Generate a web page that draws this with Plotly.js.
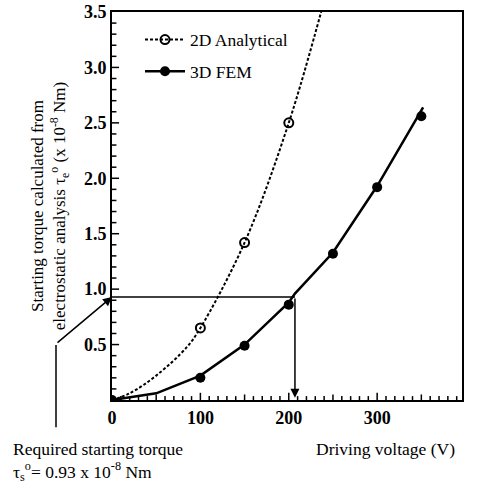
<!DOCTYPE html>
<html><head><meta charset="utf-8">
<script src="https://cdn.plot.ly/plotly-3.0.1.min.js"></script>
<style>body{margin:0;background:#fff}</style>
</head><body>
<div id="chart" style="width:481px;height:484px"></div>
<script>
// 2D Analytical: measured points and drawn curve
const ana2dX = [100, 150, 200];
const ana2dY = [0.65, 1.42, 2.5];
const ana2dCurveX = [0, 20, 50, 85, 100, 150, 200, 240];
const ana2dCurveY = [0, 0.06, 0.22, 0.48, 0.65, 1.42, 2.5, 3.6];
// 3D FEM: measured points and drawn curve
const fem3dX = [0, 100, 150, 200, 250, 300, 350];
const fem3dY = [0, 0.2, 0.49, 0.86, 1.32, 1.92, 2.56];
const fem3dCurveX = [0, 50, 100, 150, 200, 207, 250, 300, 352];
const fem3dCurveY = [0, 0.06, 0.22, 0.5, 0.88, 0.96, 1.33, 1.93, 2.64];
// required torque marker
const requiredTorque = 0.93;
const requiredVoltage = 207;
const yTicks = [0.5, 1.0, 1.5, 2.0, 2.5, 3.0, 3.5];
const yTickText = ['0.5', '1.0', '1.5', '2.0', '2.5', '3.0', '3.5'];
const xTicks = [0, 100, 200, 300, 400];
const seriesNames = ['2D Analytical', '3D FEM'];

const xRange = [0, 396];
const yRange = [0, 3.5];

const serif = 'Liberation Serif, Times New Roman, serif';
const traces = [
  {x: ana2dCurveX, y: ana2dCurveY, mode: 'lines', line: {shape: 'spline', color: '#000', width: 2, dash: '3px,2px'}, showlegend: false, hoverinfo: 'skip'},
  {x: ana2dX, y: ana2dY, mode: 'markers', marker: {symbol: 'circle-open', size: 9, color: '#000', line: {width: 2, color: '#000'}}, showlegend: false},
  {x: fem3dCurveX, y: fem3dCurveY, mode: 'lines', line: {color: '#000', width: 2.5}, showlegend: false, hoverinfo: 'skip'},
  {x: fem3dX, y: fem3dY, mode: 'markers', marker: {symbol: 'circle', size: 10, color: '#000'}, showlegend: false},
  {x: [null], y: [null], mode: 'lines+markers', name: seriesNames[0], legendgroup: 'a', line: {color: '#000', width: 2, dash: '3px,2px'}, marker: {symbol: 'circle-open', size: 9, color: '#000', line: {width: 2, color: '#000'}}},
  {x: [null], y: [null], mode: 'lines+markers', name: seriesNames[1], legendgroup: 'b', line: {color: '#000', width: 2.5}, marker: {symbol: 'circle', size: 10, color: '#000'}}
];

// inward tick marks along the bottom and left frame (axis decoration)
const tickShapes = [];
for (let i = 1; i < 40; i++) {
  const v = i * 10;
  const len = (v % 100 === 0) ? 0.065 : (v % 50 === 0 ? 0.05 : 0.035);
  tickShapes.push({type: 'line', xref: 'x', yref: 'y', layer: 'above', x0: v, x1: v, y0: 0, y1: len, line: {color: '#000', width: 1.5}});
}
for (let i = 1; i < 35; i++) {
  const v = i / 10;
  const len = (i % 5 === 0) ? 8 : 5;
  tickShapes.push({type: 'line', xref: 'x', yref: 'y', layer: 'above', x0: 0, x1: len, y0: v, y1: v, line: {color: '#000', width: 1.5}});
}

const layout = {
  width: 481, height: 484,
  margin: {l: 112, r: 19, t: 12, b: 84},
  paper_bgcolor: '#fff', plot_bgcolor: '#fff',
  font: {family: serif, color: '#000', size: 14},
  showlegend: true,
  legend: {x: 0.08, y: 0.975, xanchor: 'left', yanchor: 'top', bgcolor: 'rgba(0,0,0,0)', font: {family: serif, size: 17.5, color: '#000'}, itemwidth: 40, tracegroupgap: 6},
  xaxis: {
    range: xRange, tickvals: xTicks, ticktext: xTicks.map(String), ticks: '',
    showline: true, linecolor: '#000', linewidth: 2, mirror: true, showgrid: false, zeroline: false,
    tickfont: {family: serif, size: 18, color: '#000', weight: 'bold'}
  },
  yaxis: {
    range: yRange, tickvals: yTicks, ticktext: yTickText, ticks: '',
    showline: true, linecolor: '#000', linewidth: 2, mirror: true, showgrid: false, zeroline: false,
    tickfont: {family: serif, size: 18, color: '#000', weight: 'bold'},
    title: {text: 'Starting torque calculated from<br>electrostatic analysis τ<sub>e</sub><sup>o</sup> (x 10<sup>-8</sup> Nm)', font: {family: serif, size: 17, color: '#000'}, standoff: 14}
  },
  shapes: tickShapes.concat([
    {type: 'line', xref: 'x', yref: 'y', x0: 0, x1: requiredVoltage, y0: requiredTorque, y1: requiredTorque, line: {color: '#000', width: 1.5}},
    {type: 'line', xref: 'paper', yref: 'paper', x0: -0.16, x1: -0.16, y0: 0.142, y1: -0.07, line: {color: '#000', width: 1.5}}
  ]),
  annotations: [
    {x: requiredVoltage, y: 0.02, xref: 'x', yref: 'y', ax: requiredVoltage, ay: requiredTorque, axref: 'x', ayref: 'y', text: '', showarrow: true, arrowhead: 2, arrowsize: 1.2, arrowwidth: 1.5, arrowcolor: '#000'},
    {x: 0, y: requiredTorque, xref: 'x', yref: 'y', ax: -56, ay: 47, text: '', showarrow: true, arrowhead: 2, arrowsize: 1.2, arrowwidth: 1.5, arrowcolor: '#000'},
    {x: -0.29, y: -0.095, xref: 'paper', yref: 'paper', xanchor: 'left', yanchor: 'top', align: 'left', showarrow: false,
     text: 'Required starting torque<br>τ<sub>s</sub><sup>o</sup>= 0.93 x 10<sup>-8</sup> Nm', font: {family: serif, size: 17.5, color: '#000'}},
    {x: 0.985, y: -0.095, xref: 'paper', yref: 'paper', xanchor: 'right', yanchor: 'top', showarrow: false,
     text: 'Driving voltage (V)', font: {family: serif, size: 17.5, color: '#000'}}
  ]
};
Plotly.newPlot('chart', traces, layout, {displayModeBar: false, staticPlot: true});
</script>
</body></html>
